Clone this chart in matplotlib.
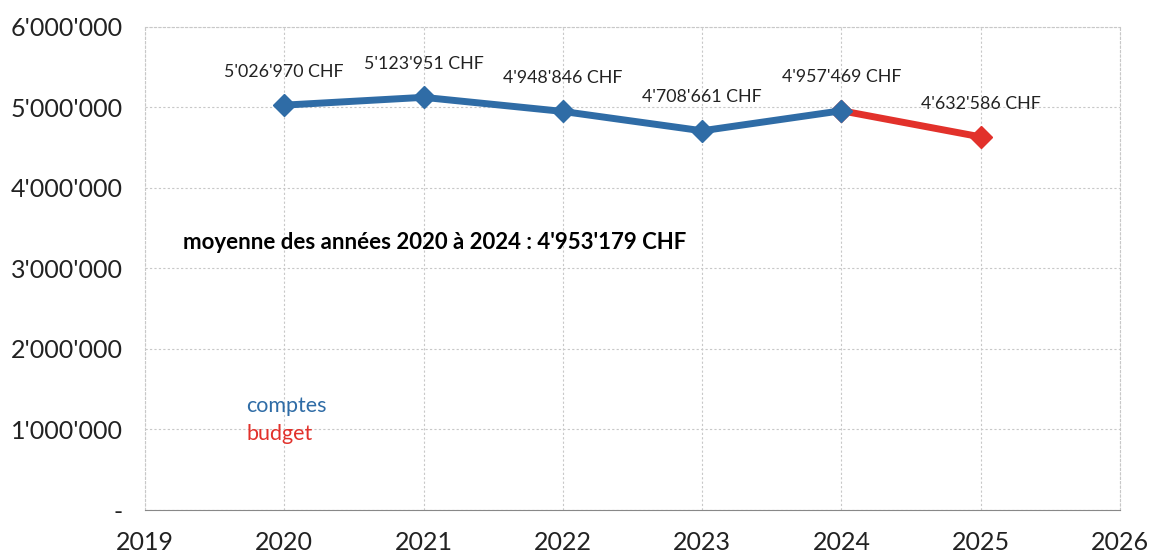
import matplotlib.pyplot as plt
from matplotlib.ticker import FuncFormatter

plt.rcParams['font.family'] = ['Lato', 'DejaVu Sans']

annees_comptes = [2020, 2021, 2022, 2023, 2024]
valeurs_comptes = [5026970, 5123951, 4948846, 4708661, 4957469]
annees_budget = [2024, 2025]
valeurs_budget = [4957469, 4632586]
moyenne = 4953179

bleu = '#2f6ca6'
rouge = '#e2312b'


def chf(v):
    return "{:,}".format(int(v)).replace(',', "'")


fig = plt.figure(figsize=(11.5, 5.58), dpi=100)
ax = fig.add_axes([0.126, 0.086, 0.848, 0.866])

ax.plot(annees_budget, valeurs_budget, color=rouge, lw=5, marker='D', ms=11, zorder=3)
ax.plot(annees_comptes, valeurs_comptes, color=bleu, lw=5, marker='D', ms=11, zorder=4)

toutes_annees = annees_comptes + annees_budget[1:]
toutes_valeurs = valeurs_comptes + valeurs_budget[1:]
for a, v in zip(toutes_annees, toutes_valeurs):
    ax.annotate(chf(v) + ' CHF', (a, v), xytext=(0, 24), textcoords='offset points',
                ha='center', va='center', fontsize=12.8, color='#222222')

ax.text(2019.27, 3320000, "moyenne des années 2020 à 2024 : " + chf(moyenne) + " CHF",
        fontsize=16, fontweight='bold', va='center', color='black')
ax.text(2019.73, 1290000, 'comptes', fontsize=15.5, color=bleu, va='center')
ax.text(2019.73, 940000, 'budget', fontsize=15.5, color=rouge, va='center')

ax.set_xlim(2019, 2026)
ax.set_ylim(0, 6000000)
ax.set_xticks(range(2019, 2027))
ax.set_yticks(range(0, 6000001, 1000000))
ax.yaxis.set_major_formatter(FuncFormatter(lambda v, p: '-' if v == 0 else chf(v)))
ax.tick_params(axis='both', length=0, labelsize=18, colors='#222222')
ax.tick_params(axis='x', pad=15)
ax.tick_params(axis='y', pad=16)
ax.grid(True, color='#c8c8c8', linestyle=(0, (2, 2)), lw=0.8)
for s in ax.spines.values():
    s.set_color('#c8c8c8')
    s.set_linestyle((0, (2, 2)))
    s.set_linewidth(0.8)
ax.spines['bottom'].set_color('#888888')
ax.spines['bottom'].set_linestyle('-')

fig.savefig('out.png', dpi=100)
